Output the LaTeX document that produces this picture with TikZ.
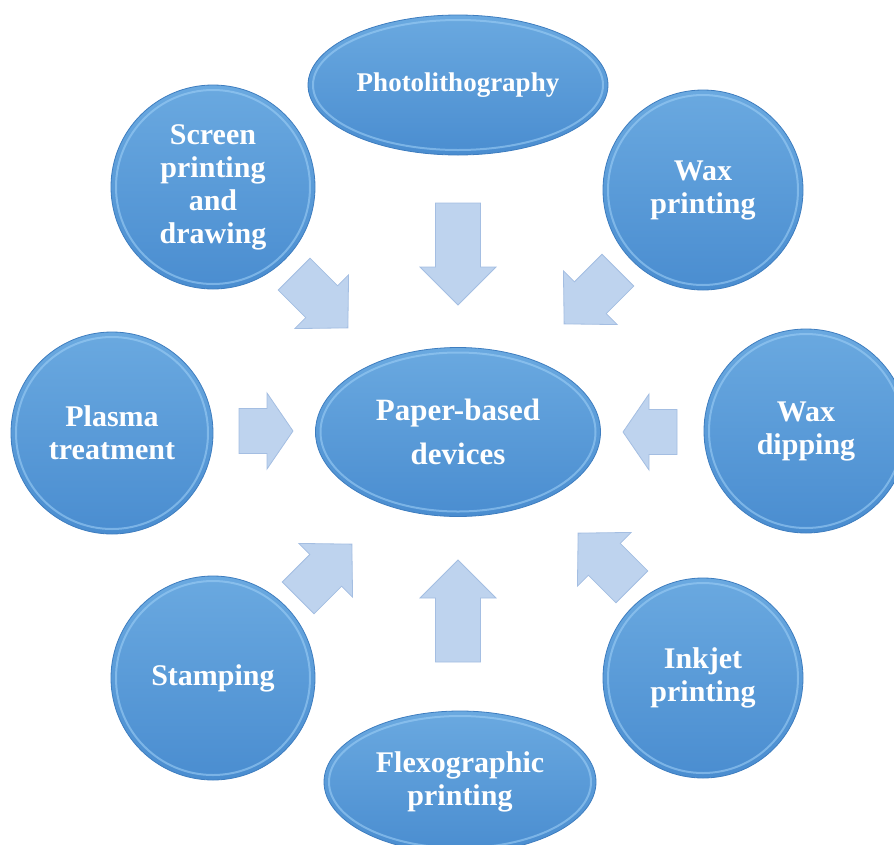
\documentclass[tikz,border=0pt]{standalone}
\usepackage{fontspec}
\setmainfont{Liberation Serif}
\usepackage{tikz}
\usetikzlibrary{shapes.geometric}

\definecolor{disctop}{HTML}{6AA9E0}
\definecolor{discbot}{HTML}{4A8DD0}
\definecolor{discedge}{HTML}{3E7DBF}
\definecolor{rimblue}{HTML}{9BCDF5}
\definecolor{arrowfill}{HTML}{BED3EE}
\definecolor{arrowedge}{HTML}{A4BEE2}

\tikzset{
  pics/blockarrow/.style n args={2}{code={
    \draw[arrowbox] (-#1/2,-22.5) -- (#1/2-#2,-22.5) -- (#1/2-#2,-38) -- (#1/2,0)
      -- (#1/2-#2,38) -- (#1/2-#2,22.5) -- (-#1/2,22.5) -- cycle;
  }}
}

\begin{document}
\begin{tikzpicture}[x=1pt,y=-1pt,
  rim/.style={draw=rimblue, line width=2pt, opacity=.6},
  disc/.style={circle, inner sep=0pt, minimum size=2*#1, draw=discedge, line width=.8pt,
    top color=disctop, bottom color=discbot, text=white, align=center,
    font=\bfseries\fontsize{30}{33}\selectfont,
    path picture={\draw[rim] (path picture bounding box.center) circle [radius=#1-5pt];}},
  oval/.style 2 args={ellipse, inner sep=0pt, minimum width=2*#1, minimum height=2*#2,
    draw=discedge, line width=.8pt, top color=disctop, bottom color=discbot,
    text=white, align=center, font=\bfseries\fontsize{30}{33}\selectfont,
    path picture={\draw[rim] (path picture bounding box.center) ellipse [x radius=#1-5pt, y radius=#2-5pt];}},
  arrowbox/.style={fill=arrowfill, draw=arrowedge, line width=.8pt, line join=miter}]
\useasboundingbox (0,0) rectangle (894,844);
\clip (0,0) rectangle (894,844);
\node[oval={150pt}{70pt}, font=\bfseries\fontsize{27}{33}\selectfont] (photo) at (458,85) {Photolithography};
\node[disc=102pt] (screen) at (213,187) {Screen\\printing\\and\\drawing};
\node[disc=100pt] (waxprint) at (703,190) {Wax\\printing};
\node[disc=101pt] (plasma) at (112,433) {Plasma\\treatment};
\node[oval={142.5pt}{84.5pt}, font=\bfseries\fontsize{31}{44}\selectfont] (paper) at (458,432) {Paper-based\\devices};
\node[disc=102pt] (waxdip) at (806,431) {Wax\\dipping};
\node[disc=102pt] (stamp) at (213,678) {Stamping};
\node[disc=100pt] (inkjet) at (703,678) {Inkjet\\printing};
\node[oval={136pt}{71pt}] (flexo) at (460,782) {Flexographic\\printing};
\pic (aTop) [rotate=-90] at (458,254) {blockarrow={102}{38}};
\pic (aBottom) [rotate=90] at (458,611) {blockarrow={102}{38}};
\pic (aLeft) at (266,431) {blockarrow={54}{26}};
\pic (aRight) [rotate=180] at (650,432) {blockarrow={54}{26}};
\pic (aTopLeft) [rotate=-45] at (321,301) {blockarrow={76}{37}};
\pic (aTopRight) [rotate=-135] at (591,297) {blockarrow={76}{37}};
\pic (aBotLeft) [rotate=45] at (325,571) {blockarrow={76}{37}};
\pic (aBotRight) [rotate=135] at (605,560) {blockarrow={76}{37}};
\end{tikzpicture}
\end{document}
